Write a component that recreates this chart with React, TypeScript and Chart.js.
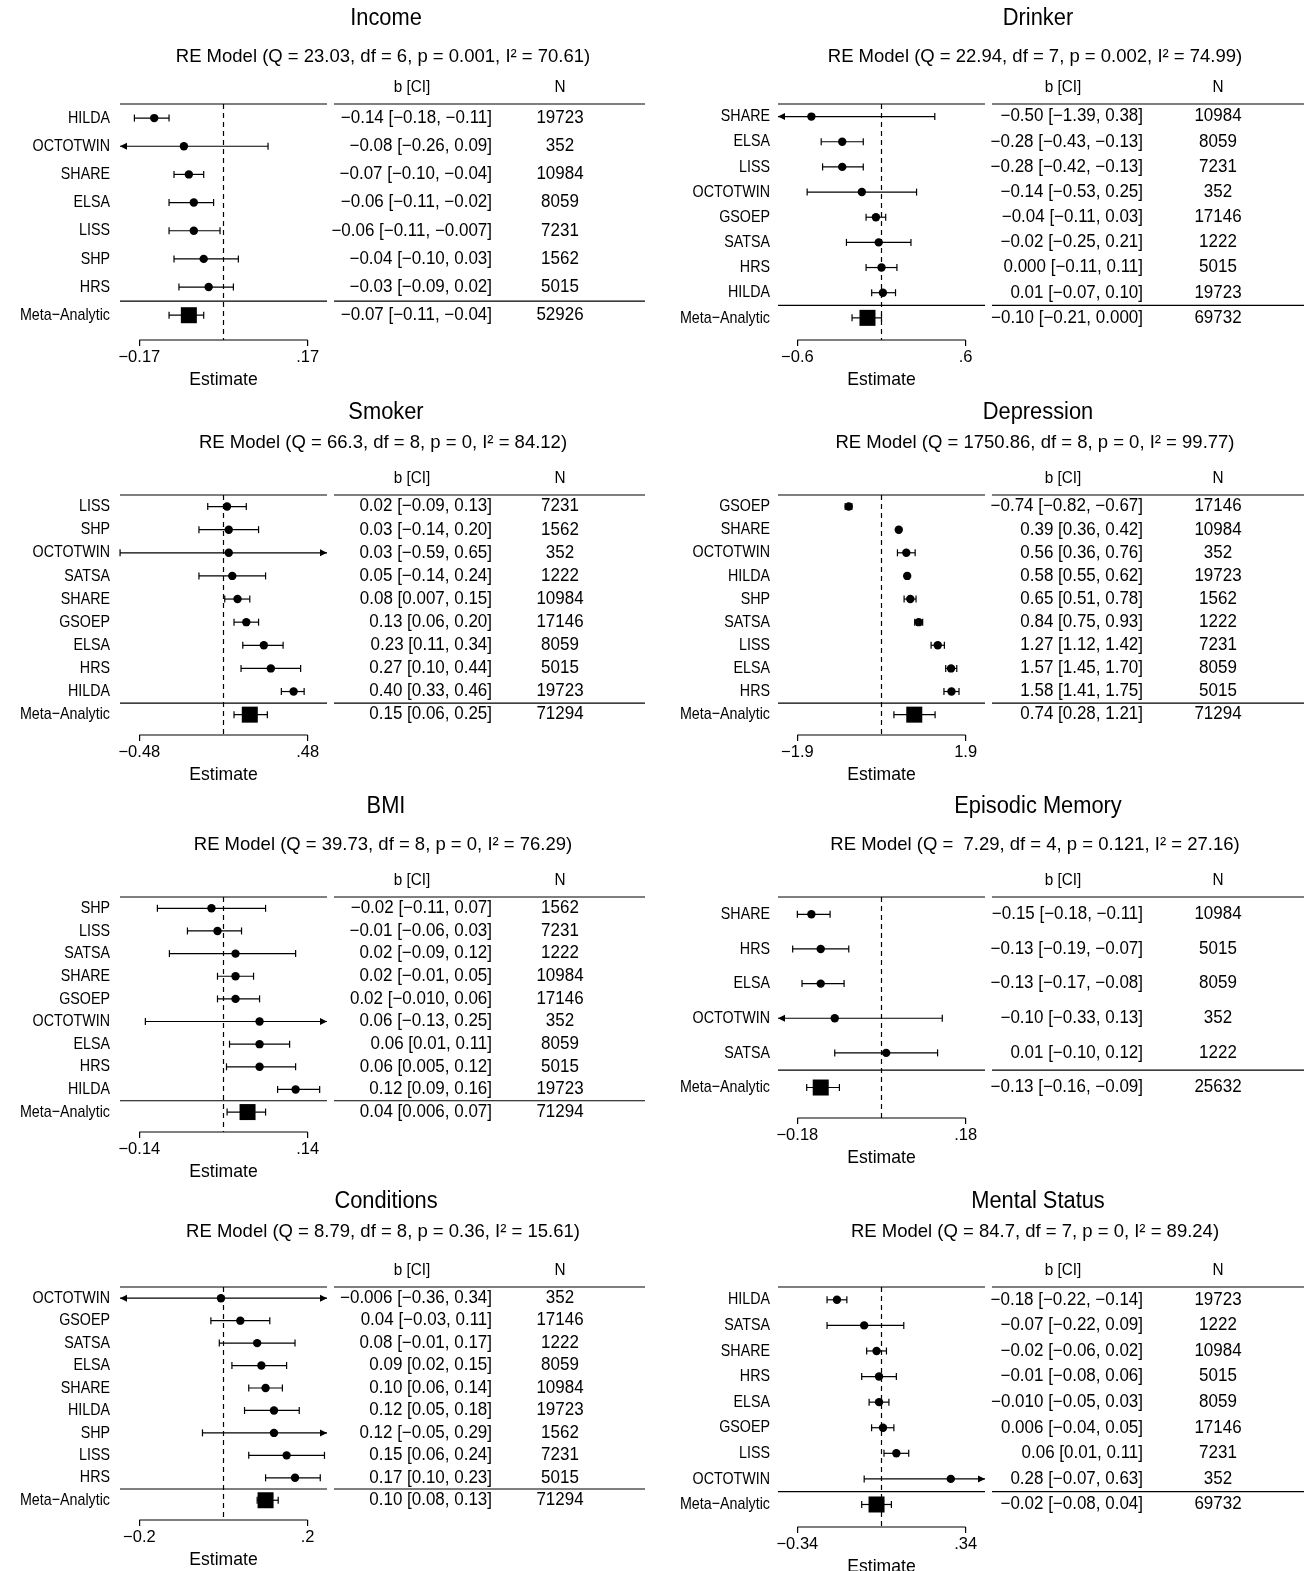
import React, { useEffect, useRef } from 'react';
import { Chart, registerables } from 'chart.js';

Chart.register(...registerables);

const FONT = '"Liberation Sans", Arial, sans-serif';

// ---- Income ----
const incomeStudies = ['HILDA', 'OCTOTWIN', 'SHARE', 'ELSA', 'LISS', 'SHP', 'HRS', 'Meta−Analytic'];
const incomeEst = ['-0.14', '-0.08', '-0.07', '-0.06', '-0.06', '-0.04', '-0.03', '-0.07'];
const incomeLo = ['-0.18', '-0.26', '-0.10', '-0.11', '-0.11', '-0.10', '-0.09', '-0.11'];
const incomeHi = ['-0.11', '0.09', '-0.04', '-0.02', '-0.007', '0.03', '0.02', '-0.04'];
const incomeN = [19723, 352, 10984, 8059, 7231, 1562, 5015, 52926];
const incomeTicks = [-0.17, 0.17];
const incomeTickLabels = ['−0.17', '.17'];

// ---- Drinker ----
const drinkerStudies = ['SHARE', 'ELSA', 'LISS', 'OCTOTWIN', 'GSOEP', 'SATSA', 'HRS', 'HILDA', 'Meta−Analytic'];
const drinkerEst = ['-0.50', '-0.28', '-0.28', '-0.14', '-0.04', '-0.02', '0.000', '0.01', '-0.10'];
const drinkerLo = ['-1.39', '-0.43', '-0.42', '-0.53', '-0.11', '-0.25', '-0.11', '-0.07', '-0.21'];
const drinkerHi = ['0.38', '-0.13', '-0.13', '0.25', '0.03', '0.21', '0.11', '0.10', '0.000'];
const drinkerN = [10984, 8059, 7231, 352, 17146, 1222, 5015, 19723, 69732];
const drinkerTicks = [-0.6, 0.6];
const drinkerTickLabels = ['−0.6', '.6'];

// ---- Smoker ----
const smokerStudies = ['LISS', 'SHP', 'OCTOTWIN', 'SATSA', 'SHARE', 'GSOEP', 'ELSA', 'HRS', 'HILDA', 'Meta−Analytic'];
const smokerEst = ['0.02', '0.03', '0.03', '0.05', '0.08', '0.13', '0.23', '0.27', '0.40', '0.15'];
const smokerLo = ['-0.09', '-0.14', '-0.59', '-0.14', '0.007', '0.06', '0.11', '0.10', '0.33', '0.06'];
const smokerHi = ['0.13', '0.20', '0.65', '0.24', '0.15', '0.20', '0.34', '0.44', '0.46', '0.25'];
const smokerN = [7231, 1562, 352, 1222, 10984, 17146, 8059, 5015, 19723, 71294];
const smokerTicks = [-0.48, 0.48];
const smokerTickLabels = ['−0.48', '.48'];

// ---- Depression ----
const depStudies = ['GSOEP', 'SHARE', 'OCTOTWIN', 'HILDA', 'SHP', 'SATSA', 'LISS', 'ELSA', 'HRS', 'Meta−Analytic'];
const depEst = ['-0.74', '0.39', '0.56', '0.58', '0.65', '0.84', '1.27', '1.57', '1.58', '0.74'];
const depLo = ['-0.82', '0.36', '0.36', '0.55', '0.51', '0.75', '1.12', '1.45', '1.41', '0.28'];
const depHi = ['-0.67', '0.42', '0.76', '0.62', '0.78', '0.93', '1.42', '1.70', '1.75', '1.21'];
const depN = [17146, 10984, 352, 19723, 1562, 1222, 7231, 8059, 5015, 71294];
const depTicks = [-1.9, 1.9];
const depTickLabels = ['−1.9', '1.9'];

// ---- BMI ----
const bmiStudies = ['SHP', 'LISS', 'SATSA', 'SHARE', 'GSOEP', 'OCTOTWIN', 'ELSA', 'HRS', 'HILDA', 'Meta−Analytic'];
const bmiEst = ['-0.02', '-0.01', '0.02', '0.02', '0.02', '0.06', '0.06', '0.06', '0.12', '0.04'];
const bmiLo = ['-0.11', '-0.06', '-0.09', '-0.01', '-0.010', '-0.13', '0.01', '0.005', '0.09', '0.006'];
const bmiHi = ['0.07', '0.03', '0.12', '0.05', '0.06', '0.25', '0.11', '0.12', '0.16', '0.07'];
const bmiN = [1562, 7231, 1222, 10984, 17146, 352, 8059, 5015, 19723, 71294];
const bmiTicks = [-0.14, 0.14];
const bmiTickLabels = ['−0.14', '.14'];

// ---- Episodic Memory ----
const epiStudies = ['SHARE', 'HRS', 'ELSA', 'OCTOTWIN', 'SATSA', 'Meta−Analytic'];
const epiEst = ['-0.15', '-0.13', '-0.13', '-0.10', '0.01', '-0.13'];
const epiLo = ['-0.18', '-0.19', '-0.17', '-0.33', '-0.10', '-0.16'];
const epiHi = ['-0.11', '-0.07', '-0.08', '0.13', '0.12', '-0.09'];
const epiN = [10984, 5015, 8059, 352, 1222, 25632];
const epiTicks = [-0.18, 0.18];
const epiTickLabels = ['−0.18', '.18'];

// ---- Conditions ----
const condStudies = ['OCTOTWIN', 'GSOEP', 'SATSA', 'ELSA', 'SHARE', 'HILDA', 'SHP', 'LISS', 'HRS', 'Meta−Analytic'];
const condEst = ['-0.006', '0.04', '0.08', '0.09', '0.10', '0.12', '0.12', '0.15', '0.17', '0.10'];
const condLo = ['-0.36', '-0.03', '-0.01', '0.02', '0.06', '0.05', '-0.05', '0.06', '0.10', '0.08'];
const condHi = ['0.34', '0.11', '0.17', '0.15', '0.14', '0.18', '0.29', '0.24', '0.23', '0.13'];
const condN = [352, 17146, 1222, 8059, 10984, 19723, 1562, 7231, 5015, 71294];
const condTicks = [-0.2, 0.2];
const condTickLabels = ['−0.2', '.2'];

// ---- Mental Status ----
const mentalStudies = ['HILDA', 'SATSA', 'SHARE', 'HRS', 'ELSA', 'GSOEP', 'LISS', 'OCTOTWIN', 'Meta−Analytic'];
const mentalEst = ['-0.18', '-0.07', '-0.02', '-0.01', '-0.010', '0.006', '0.06', '0.28', '-0.02'];
const mentalLo = ['-0.22', '-0.22', '-0.06', '-0.08', '-0.05', '-0.04', '0.01', '-0.07', '-0.08'];
const mentalHi = ['-0.14', '0.09', '0.02', '0.06', '0.03', '0.05', '0.11', '0.63', '0.04'];
const mentalN = [19723, 1222, 10984, 5015, 8059, 17146, 7231, 352, 69732];
const mentalTicks = [-0.34, 0.34];
const mentalTickLabels = ['−0.34', '.34'];

type PanelProps = {
  title: string;
  model: string;
  studies: string[];
  est: string[];
  lo: string[];
  hi: string[];
  n: number[];
  ticks: number[];
  tickLabels: string[];
  left: number;
  top: number;
  height: number;
  side: 'L' | 'R';
  areaTop: number;
  areaBottom: number;
  subY: number;
};

const neg = (s: string) => s.replace(/-/g, '−');

// draw text squeezed horizontally (the original uses a condensed face)
function squeezed(ctx: CanvasRenderingContext2D, s: string, x: number, y: number, align: CanvasTextAlign, k: number) {
  ctx.save();
  ctx.translate(x, y);
  ctx.scale(k, 1);
  ctx.textAlign = align;
  ctx.fillText(s, 0, 0);
  ctx.restore();
}

const ForestPanel: React.FC<PanelProps> = (p) => {
  const ref = useRef<HTMLCanvasElement>(null);
  useEffect(() => {
    if (!ref.current) return;
    const W = 652;
    const H = p.height;
    const plotLeft = p.side === 'L' ? 120 : 126;
    const plotRight = p.side === 'L' ? 327 : 333;
    const bRight = p.side === 'L' ? 492 : 491;
    const nCenter = p.side === 'L' ? 560 : 566;
    const tLeft = p.side === 'L' ? 334 : 340;
    const tRight = p.side === 'L' ? 645 : 652;
    const labelRight = p.side === 'L' ? 110 : 118;
    const R = p.studies.length;
    const T = p.ticks[1];
    const xr = T * 1.23;
    const est = p.est.map(parseFloat);
    const lo = p.lo.map(parseFloat);
    const hi = p.hi.map(parseFloat);
    const xAxisH = 30;

    const forest = {
      id: 'forest',
      afterDraw(chart: any) {
        const ctx = chart.ctx as CanvasRenderingContext2D;
        const xs = chart.scales.x;
        const ys = chart.scales.y;
        const ca = chart.chartArea;
        ctx.save();
        ctx.fillStyle = '#000';
        ctx.strokeStyle = '#000';
        ctx.textBaseline = 'middle';
        // titles
        ctx.font = `23px ${FONT}`;
        squeezed(ctx, p.title, 386, 19, 'center', 0.95);
        ctx.font = `18.5px ${FONT}`;
        squeezed(ctx, p.model, 383, p.subY, 'center', 1);
        ctx.font = `17px ${FONT}`;
        const hy = p.areaTop - 17;
        squeezed(ctx, 'b [CI]', bRight - 80, hy, 'center', 0.9);
        squeezed(ctx, 'N', nCenter, hy, 'center', 0.9);
        // horizontal rules
        ctx.lineWidth = 1.2;
        const rules = [ys.getPixelForValue(-0.5), ys.getPixelForValue(R - 1.5)];
        rules.forEach((y) => {
          ctx.beginPath();
          ctx.moveTo(ca.left, y);
          ctx.lineTo(ca.right, y);
          ctx.moveTo(tLeft, y);
          ctx.lineTo(tRight, y);
          ctx.stroke();
        });
        // x axis line
        ctx.beginPath();
        ctx.moveTo(xs.getPixelForValue(-T), ca.bottom);
        ctx.lineTo(xs.getPixelForValue(T), ca.bottom);
        ctx.stroke();
        // dashed zero line
        ctx.setLineDash([5, 4]);
        ctx.beginPath();
        ctx.moveTo(xs.getPixelForValue(0), ca.top);
        ctx.lineTo(xs.getPixelForValue(0), ca.bottom);
        ctx.stroke();
        ctx.setLineDash([]);
        // error bars + points
        for (let i = 0; i < R; i++) {
          const y = ys.getPixelForValue(i);
          const xl = xs.getPixelForValue(Math.max(lo[i], -xr));
          const xh = xs.getPixelForValue(Math.min(hi[i], xr));
          const xe = xs.getPixelForValue(est[i]);
          ctx.lineWidth = 1.2;
          ctx.beginPath();
          ctx.moveTo(xl, y);
          ctx.lineTo(xh, y);
          ctx.stroke();
          const end = (x: number, out: boolean, dir: number) => {
            if (out) {
              ctx.beginPath();
              ctx.moveTo(x, y);
              ctx.lineTo(x - dir * 7, y - 3.5);
              ctx.lineTo(x - dir * 7, y + 3.5);
              ctx.closePath();
              ctx.fill();
            } else {
              ctx.beginPath();
              ctx.moveTo(x, y - 3.5);
              ctx.lineTo(x, y + 3.5);
              ctx.stroke();
            }
          };
          end(xl, lo[i] < -xr, -1);
          end(xh, hi[i] > xr, 1);
          if (i === R - 1) {
            ctx.fillRect(xe - 8, y - 8, 16, 16);
          } else {
            ctx.beginPath();
            ctx.arc(xe, y, 4.2, 0, Math.PI * 2);
            ctx.fill();
          }
          ctx.font = `17px ${FONT}`;
          squeezed(ctx, p.studies[i], labelRight, y, 'right', 0.84);
          ctx.font = `17.5px ${FONT}`;
          squeezed(ctx, `${neg(p.est[i])} [${neg(p.lo[i])}, ${neg(p.hi[i])}]`, bRight, y, 'right', 0.97);
          squeezed(ctx, String(p.n[i]), nCenter, y, 'center', 0.97);
        }
        ctx.font = `18.5px ${FONT}`;
        squeezed(ctx, 'Estimate', xs.getPixelForValue(0), ca.bottom + 40, 'center', 0.95);
        ctx.restore();
      },
    };

    const chart = new Chart(ref.current, {
      type: 'scatter',
      data: { datasets: [{ data: [], pointRadius: 0 }] },
      options: {
        animation: false,
        responsive: false,
        layout: {
          padding: { top: p.areaTop, bottom: H - p.areaBottom - xAxisH, left: 0, right: W - plotRight },
        },
        plugins: { legend: { display: false }, tooltip: { enabled: false }, title: { display: false } },
        scales: {
          x: {
            type: 'linear',
            min: -xr,
            max: xr,
            afterBuildTicks: (s: any) => {
              s.ticks = p.ticks.map((v) => ({ value: v }));
            },
            afterFit: (s: any) => {
              s.height = xAxisH;
            },
            ticks: {
              color: '#000',
              font: { family: FONT, size: 16.5 },
              padding: 2,
              autoSkip: false,
              maxRotation: 0,
              callback: (v: any) => p.tickLabels[p.ticks.indexOf(Number(v))] ?? '',
            },
            grid: { drawOnChartArea: false, drawTicks: true, tickLength: 6, color: '#000', lineWidth: 1.2 },
            border: { display: false },
          },
          y: {
            type: 'linear',
            reverse: true,
            min: -0.5,
            max: R - 1 + 0.88,
            afterBuildTicks: (s: any) => {
              s.ticks = p.studies.map((_, i) => ({ value: i }));
            },
            afterFit: (s: any) => {
              s.width = plotLeft;
            },
            ticks: { display: false },
            grid: { display: false },
            border: { display: false },
          },
        },
      },
      plugins: [forest],
    } as any);
    return () => chart.destroy();
  }, []);
  return (
    <canvas
      ref={ref}
      width={652}
      height={p.height}
      style={{ position: 'absolute', left: p.left, top: p.top, width: 652, height: p.height }}
    />
  );
};

const App: React.FC = () => {
  useEffect(() => {
    document.body.style.margin = '0';
    document.body.style.background = '#fff';
  }, []);
  return (
    <div style={{ position: 'relative', width: 1304, height: 1571, background: '#fff' }}>
      <ForestPanel title="Income" model="RE Model (Q = 23.03, df = 6, p = 0.001, I² = 70.61)"
        studies={incomeStudies} est={incomeEst} lo={incomeLo} hi={incomeHi} n={incomeN}
        ticks={incomeTicks} tickLabels={incomeTickLabels}
        left={0} top={0} height={394} side="L" areaTop={104} areaBottom={340} subY={57} />
      <ForestPanel title="Drinker" model="RE Model (Q = 22.94, df = 7, p = 0.002, I² = 74.99)"
        studies={drinkerStudies} est={drinkerEst} lo={drinkerLo} hi={drinkerHi} n={drinkerN}
        ticks={drinkerTicks} tickLabels={drinkerTickLabels}
        left={652} top={0} height={394} side="R" areaTop={104} areaBottom={340} subY={57} />
      <ForestPanel title="Smoker" model="RE Model (Q = 66.3, df = 8, p = 0, I² = 84.12)"
        studies={smokerStudies} est={smokerEst} lo={smokerLo} hi={smokerHi} n={smokerN}
        ticks={smokerTicks} tickLabels={smokerTickLabels}
        left={0} top={394} height={394} side="L" areaTop={101} areaBottom={341} subY={49} />
      <ForestPanel title="Depression" model="RE Model (Q = 1750.86, df = 8, p = 0, I² = 99.77)"
        studies={depStudies} est={depEst} lo={depLo} hi={depHi} n={depN}
        ticks={depTicks} tickLabels={depTickLabels}
        left={652} top={394} height={394} side="R" areaTop={101} areaBottom={341} subY={49} />
      <ForestPanel title="BMI" model="RE Model (Q = 39.73, df = 8, p = 0, I² = 76.29)"
        studies={bmiStudies} est={bmiEst} lo={bmiLo} hi={bmiHi} n={bmiN}
        ticks={bmiTicks} tickLabels={bmiTickLabels}
        left={0} top={788} height={395} side="L" areaTop={109} areaBottom={344} subY={57} />
      <ForestPanel title="Episodic Memory" model="RE Model (Q =  7.29, df = 4, p = 0.121, I² = 27.16)"
        studies={epiStudies} est={epiEst} lo={epiLo} hi={epiHi} n={epiN}
        ticks={epiTicks} tickLabels={epiTickLabels}
        left={652} top={788} height={395} side="R" areaTop={109} areaBottom={330} subY={57} />
      <ForestPanel title="Conditions" model="RE Model (Q = 8.79, df = 8, p = 0.36, I² = 15.61)"
        studies={condStudies} est={condEst} lo={condLo} hi={condHi} n={condN}
        ticks={condTicks} tickLabels={condTickLabels}
        left={0} top={1183} height={388} side="L" areaTop={104} areaBottom={337} subY={49} />
      <ForestPanel title="Mental Status" model="RE Model (Q = 84.7, df = 7, p = 0, I² = 89.24)"
        studies={mentalStudies} est={mentalEst} lo={mentalLo} hi={mentalHi} n={mentalN}
        ticks={mentalTicks} tickLabels={mentalTickLabels}
        left={652} top={1183} height={388} side="R" areaTop={104} areaBottom={344} subY={49} />
    </div>
  );
};

export default App;
